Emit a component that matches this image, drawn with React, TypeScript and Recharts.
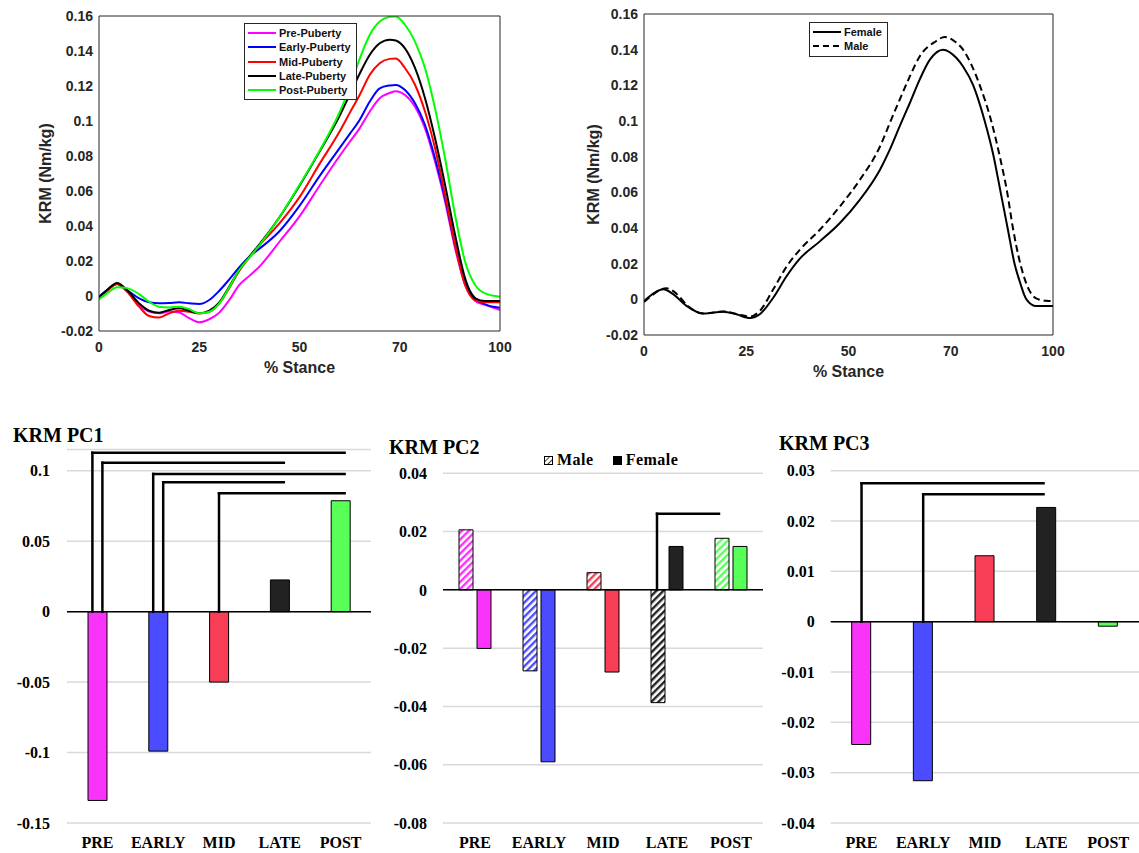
import React from 'react';
import {
  LineChart,
  Line,
  BarChart,
  Bar,
  Cell,
  XAxis,
  YAxis,
  CartesianGrid,
  ReferenceLine,
  Legend,
} from 'recharts';

const SANS = '"Liberation Sans", Arial, Helvetica, sans-serif';
const SERIF = '"Liberation Serif", "Times New Roman", Times, serif';
const AXIS = '#262626';

// ---- top row: knee rotation moment over % stance ----
const stanceX = [0, 2, 4.5, 7, 10, 12.5, 15, 17.5, 20, 22.5, 25, 27.5, 30, 32.5, 35, 37.5, 40, 45, 50, 55, 60, 62.5, 65, 67.5, 70, 72.5, 74, 76.3, 78.8, 81.3, 83.8, 86.3, 88.8, 91.3, 93.8, 96.3, 100];
const prePuberty = [-0.0008, 0.003, 0.0069, 0.0025, -0.0051, -0.0089, -0.0099, -0.0089, -0.0094, -0.0127, -0.015, -0.0133, -0.0095, -0.0023, 0.0063, 0.0115, 0.0168, 0.031, 0.0455, 0.063, 0.08, 0.088, 0.0958, 0.1053, 0.113, 0.116, 0.117, 0.1149, 0.1082, 0.0958, 0.0768, 0.0539, 0.0273, 0.0063, -0.0028, -0.0051, -0.008];
const earlyPuberty = [-0.0004, 0.0034, 0.0069, 0.0034, -0.0013, -0.0036, -0.0042, -0.004, -0.0036, -0.0042, -0.0046, -0.0023, 0.003, 0.0095, 0.0165, 0.0225, 0.027, 0.037, 0.0515, 0.0685, 0.0845, 0.0925, 0.1006, 0.111, 0.1187, 0.1203, 0.1206, 0.1177, 0.1101, 0.0977, 0.0787, 0.0558, 0.0292, 0.0082, -0.0013, -0.0048, -0.0067];
const midPuberty = [-0.0008, 0.003, 0.0069, 0.0025, -0.0061, -0.0114, -0.0123, -0.0099, -0.0084, -0.009, -0.0099, -0.009, -0.0042, 0.0046, 0.0145, 0.022, 0.029, 0.0415, 0.0565, 0.0755, 0.094, 0.1045, 0.1149, 0.1263, 0.133, 0.1355, 0.1357, 0.1303, 0.1207, 0.1054, 0.0844, 0.0578, 0.0292, 0.0063, -0.0023, -0.0036, -0.0036];
const latePuberty = [-0.0008, 0.0034, 0.0075, 0.0034, -0.0042, -0.0084, -0.0095, -0.008, -0.007, -0.0084, -0.0099, -0.0084, -0.0036, 0.0054, 0.015, 0.0225, 0.0295, 0.045, 0.063, 0.0825, 0.103, 0.115, 0.127, 0.1377, 0.1444, 0.1465, 0.146, 0.1415, 0.1303, 0.113, 0.0901, 0.0635, 0.0349, 0.0101, -0.0013, -0.0028, -0.0028];
const postPuberty = [-0.0019, 0.0015, 0.005, 0.0045, 0.0011, -0.0033, -0.0061, -0.0065, -0.0061, -0.0075, -0.0099, -0.009, -0.0042, 0.005, 0.015, 0.022, 0.029, 0.045, 0.0635, 0.083, 0.105, 0.119, 0.1355, 0.1491, 0.1568, 0.1595, 0.1597, 0.155, 0.1454, 0.1303, 0.1072, 0.0787, 0.0463, 0.0196, 0.0063, 0.0015, -0.0004];

const stageNames = ['Pre-Puberty', 'Early-Puberty', 'Mid-Puberty', 'Late-Puberty', 'Post-Puberty'];
const stageKeys = ['pre', 'early', 'mid', 'late', 'post'];
const stageLineColors = ['#ff00ff', '#0000ff', '#ff0000', '#000000', '#00ff00'];

const femaleX = [0, 1, 4.7, 7.2, 10.4, 14.5, 19.4, 22.6, 25.9, 28.3, 31.6, 34.9, 38.1, 43, 47.9, 52.8, 57.7, 60.1, 62.5, 65, 67.4, 69.9, 73.1, 76.4, 78, 80.5, 83.3, 85.5, 87.2, 88.9, 90.6, 92, 93.5, 95.9, 100];
const femaleKrm = [-0.001, 0.001, 0.0056, 0.0028, -0.0037, -0.008, -0.0069, -0.0084, -0.0105, -0.0084, 0.0009, 0.0131, 0.0228, 0.0325, 0.0428, 0.0559, 0.0727, 0.0839, 0.097, 0.1101, 0.1232, 0.1344, 0.14, 0.1353, 0.1306, 0.12, 0.1, 0.08, 0.06, 0.04, 0.02, 0.009, 0, -0.0038, -0.0038];
const maleX = [0, 1, 5.5, 8, 10.4, 14.5, 19.4, 22.6, 25.9, 28.3, 31.6, 34.9, 38.1, 43, 47.9, 52.8, 57.7, 60.1, 62.5, 65, 67.4, 71.3, 73.5, 76, 78, 82.1, 84.9, 87, 88.8, 90.2, 92, 94, 95.9, 98.3, 100];
const maleKrm = [-0.0015, 0.0005, 0.0062, 0.003, -0.003, -0.008, -0.0068, -0.0082, -0.0097, -0.0065, 0.0056, 0.0185, 0.0278, 0.039, 0.0521, 0.0671, 0.0857, 0.0989, 0.1119, 0.125, 0.1362, 0.1446, 0.1471, 0.1446, 0.14, 0.12, 0.1, 0.08, 0.06, 0.04, 0.02, 0.006, 0.0005, -0.0008, -0.001];

const stanceTicks = [0, 25, 50, 75, 100];
const stanceTickLabels = ['0', '25', '50', '70', '100'];
const krmTicks = [-0.02, 0, 0.02, 0.04, 0.06, 0.08, 0.1, 0.12, 0.14, 0.16];

// ---- bottom row: PC scores by pubertal stage ----
const groups = ['PRE', 'EARLY', 'MID', 'LATE', 'POST'];
const groupColors = ['#f933f9', '#4b4bff', '#f73e56', '#222222', '#58ff58'];

const pc1Scores = [-0.134, -0.099, -0.05, 0.0225, 0.0787];
const pc1Ticks = [-0.15, -0.1, -0.05, 0, 0.05, 0.1];
// [from group, to group, bracket height]
const pc1Sig: [number, number, number][] = [[0, 4, 0.1128], [0, 3, 0.1057], [1, 4, 0.0977], [1, 3, 0.0918], [2, 4, 0.084]];

const pc2Male = [0.0206, -0.0278, 0.0059, -0.0387, 0.0177];
const pc2Female = [-0.0201, -0.059, -0.0282, 0.0149, 0.0149];
const pc2Ticks = [-0.08, -0.06, -0.04, -0.02, 0, 0.02, 0.04];
const pc2Sig: [number, number, number][] = [[3, 4, 0.0261]];

const pc3Scores = [-0.0244, -0.0316, 0.0131, 0.0227, -0.0009];
const pc3Ticks = [-0.04, -0.03, -0.02, -0.01, 0, 0.01, 0.02, 0.03];
const pc3Sig: [number, number, number][] = [[0, 3, 0.0275], [1, 3, 0.0253]];

const fmtNum = (v: number) => String(Number(v.toFixed(3)));
const stanceLabel = (v: number) => {
  const i = stanceTicks.indexOf(v);
  return i >= 0 ? stanceTickLabels[i] : String(v);
};

const stageRows = stanceX.map((x, i) => ({
  x,
  pre: prePuberty[i],
  early: earlyPuberty[i],
  mid: midPuberty[i],
  late: latePuberty[i],
  post: postPuberty[i],
}));

function XTitle({ px, py, text }: any) {
  return (
    <text x={px} y={py} textAnchor="middle" fill={AXIS} fontFamily={SANS} fontWeight={700} fontSize={16}>
      {text}
    </text>
  );
}

function YTitle({ px, py, text }: any) {
  return (
    <text x={px} y={py} transform={`rotate(-90, ${px}, ${py})`} textAnchor="middle" fill={AXIS} fontFamily={SANS} fontWeight={700} fontSize={16}>
      {text}
    </text>
  );
}

function LineKey({ items }: { items: { name: string; color: string; dash?: string }[] }) {
  return (
    <div style={{ border: `1px solid ${AXIS}`, background: '#fff', padding: '2px 5px 2px 3px', fontFamily: SANS, fontWeight: 700, fontSize: 11, color: '#111' }}>
      {items.map((it) => (
        <div key={it.name} style={{ display: 'flex', alignItems: 'center', height: 14.3 }}>
          <svg width={28} height={4} style={{ marginRight: 3 }}>
            <line x1={0} y1={2} x2={28} y2={2} stroke={it.color} strokeWidth={2} strokeDasharray={it.dash} />
          </svg>
          <span style={{ lineHeight: '14px', whiteSpace: 'nowrap' }}>{it.name}</span>
        </div>
      ))}
    </div>
  );
}

// MATLAB style box: labelled left/bottom axes plus inward ticks on all four sides
function frameAxes(xTitle: React.ReactElement, yTitle: React.ReactElement) {
  const tickFont = { fill: AXIS, fontSize: 14, fontWeight: 700, fontFamily: SANS, style: { fontWeight: 700 } };
  const yDomain: [number, number] = [-0.02, 0.16];
  return [
    <XAxis key="b" xAxisId="b" type="number" dataKey="x" domain={[0, 100]} ticks={stanceTicks} interval={0}
      tickFormatter={stanceLabel} stroke={AXIS} tickLine={false} tickSize={6} tickMargin={5} height={30}
      tick={tickFont} allowDataOverflow label={xTitle} />,
    <XAxis key="bm" xAxisId="bm" type="number" dataKey="x" domain={[0, 100]} ticks={stanceTicks} interval={0}
      mirror tick={false} axisLine={false} stroke={AXIS} tickSize={5} allowDataOverflow />,
    <XAxis key="t" xAxisId="t" orientation="top" type="number" dataKey="x" domain={[0, 100]} ticks={stanceTicks}
      interval={0} mirror tick={false} stroke={AXIS} tickSize={5} allowDataOverflow />,
    <YAxis key="l" yAxisId="l" type="number" domain={yDomain} ticks={krmTicks} interval={0} tickFormatter={fmtNum}
      stroke={AXIS} tickLine={false} tickSize={4} tickMargin={2} width={60} tick={tickFont} allowDataOverflow
      label={yTitle} />,
    <YAxis key="lm" yAxisId="lm" type="number" domain={yDomain} ticks={krmTicks} interval={0} mirror tick={false}
      axisLine={false} stroke={AXIS} tickSize={5} allowDataOverflow />,
    <YAxis key="r" yAxisId="r" orientation="right" type="number" domain={yDomain} ticks={krmTicks} interval={0}
      mirror tick={false} stroke={AXIS} tickSize={5} allowDataOverflow />,
  ];
}

function StagesChart() {
  const items = stageNames.map((name, i) => ({ name, color: stageLineColors[i] }));
  return (
    <LineChart width={520} height={390} data={stageRows} margin={{ top: 16, right: 20, bottom: 29, left: 39 }}>
      {frameAxes(<XTitle px={299.5} py={372.7} text="% Stance" />, <YTitle px={50.7} py={173.5} text="KRM (Nm/kg)" />)}
      {stageKeys.map((k, i) => (
        <Line key={k} xAxisId="b" yAxisId="l" type="monotone" dataKey={k} name={stageNames[i]}
          stroke={stageLineColors[i]} strokeWidth={2} dot={false} activeDot={false} isAnimationActive={false} />
      ))}
      <Legend layout="vertical" align="center" verticalAlign="middle"
        wrapperStyle={{ left: 244, top: 23, width: 'auto' }} content={() => <LineKey items={items} />} />
    </LineChart>
  );
}

function SexChart() {
  const female = femaleX.map((x, i) => ({ x, krm: femaleKrm[i] }));
  const male = maleX.map((x, i) => ({ x, krm: maleKrm[i] }));
  const items = [
    { name: 'Female', color: '#000' },
    { name: 'Male', color: '#000', dash: '6 4' },
  ];
  return (
    <LineChart width={520} height={390} margin={{ top: 14, right: 27, bottom: 25, left: 24 }}>
      {frameAxes(<XTitle px={288.5} py={376.7} text="% Stance" />, <YTitle px={38.7} py={174.5} text="KRM (Nm/kg)" />)}
      <Line xAxisId="b" yAxisId="l" data={female} type="monotone" dataKey="krm" name="Female" stroke="#000"
        strokeWidth={2} dot={false} activeDot={false} isAnimationActive={false} />
      <Line xAxisId="b" yAxisId="l" data={male} type="monotone" dataKey="krm" name="Male" stroke="#000"
        strokeWidth={2} strokeDasharray="7 4" dot={false} activeDot={false} isAnimationActive={false} />
      <Legend layout="vertical" align="center" verticalAlign="middle"
        wrapperStyle={{ left: 249, top: 22, width: 'auto' }} content={() => <LineKey items={items} />} />
    </LineChart>
  );
}

// significance brackets: segments placed on group centres, nudged sideways in pixels
function brackets(sig: [number, number, number][], spread: number, startPx: number, endPx: number) {
  const out: React.ReactElement[] = [];
  sig.forEach(([from, to, h], k) => {
    const same = sig.filter((s) => s[0] === from);
    const order = same.indexOf(sig[k]);
    const dx0 = startPx + (order - (same.length - 1) / 2) * spread;
    const draw = (d1: number) => (p: any) => (
      <line x1={p.x1 + dx0} y1={p.y1} x2={p.x2 + d1} y2={p.y2} stroke="#000" strokeWidth={2.5} strokeLinecap="square" />
    );
    out.push(
      <ReferenceLine key={`v${k}`} xAxisId="cat" ifOverflow="visible" shape={draw(dx0)}
        segment={[{ x: groups[from], y: 0 }, { x: groups[from], y: h }]} />,
    );
    out.push(
      <ReferenceLine key={`h${k}`} xAxisId="cat" ifOverflow="visible" shape={draw(endPx)}
        segment={[{ x: groups[from], y: h }, { x: groups[to], y: h }]} />,
    );
  });
  return out;
}

function barFrame(ticks: number[], domain: [number, number], labelGap: number) {
  const font = { fill: '#000', fontSize: 16, fontWeight: 700, fontFamily: SERIF };
  return [
    <CartesianGrid key="g" xAxisId="cat" vertical={false} stroke="#d9d9d9" strokeWidth={1.5} />,
    <XAxis key="x" xAxisId="cat" dataKey="group" axisLine={false} tickLine={false} tickSize={6} tickMargin={8}
      height={30} interval={0} tick={font} />,
    <YAxis key="y" type="number" domain={domain} ticks={ticks} interval={0} tickFormatter={fmtNum} axisLine={false}
      tickLine={false} tickSize={6} tickMargin={labelGap} width={60} tick={font} allowDataOverflow />,
    <ReferenceLine key="z" xAxisId="cat" y={0} stroke="#000" strokeWidth={1.5} />,
  ];
}

function PC1Chart() {
  const rows = groups.map((group, i) => ({ group, v: pc1Scores[i] }));
  return (
    <BarChart width={380} height={443} data={rows} margin={{ top: 39.6, right: 9, bottom: 0, left: 7 }}>
      {barFrame(pc1Ticks, [-0.15, 0.115], 11)}
      <Bar xAxisId="cat" dataKey="v" barSize={19} stroke="#000" strokeWidth={1} isAnimationActive={false}>
        {groups.map((g, i) => <Cell key={g} fill={groupColors[i]} />)}
      </Bar>
      {brackets(pc1Sig, 10, 0, 4)}
    </BarChart>
  );
}

function SexKey() {
  return (
    <div style={{ display: 'flex', alignItems: 'center', height: 18, fontFamily: SERIF, fontWeight: 700, fontSize: 16, color: '#000', whiteSpace: 'nowrap' }}>
      <svg width={9} height={9} style={{ marginRight: 4 }}>
        <rect x={0.5} y={0.5} width={8} height={8} fill="url(#hatch-key)" stroke="#000" strokeWidth={1} />
      </svg>
      <span style={{ marginRight: 19, letterSpacing: 0.5 }}>Male</span>
      <svg width={9} height={9} style={{ marginRight: 4 }}>
        <rect x={0} y={0} width={9} height={9} fill="#000" />
      </svg>
      <span style={{ letterSpacing: 0.5 }}>Female</span>
    </div>
  );
}

function PC2Chart() {
  const rows = groups.map((group, i) => ({ group, male: pc2Male[i], female: pc2Female[i] }));
  return (
    <BarChart width={390} height={433} data={rows} barGap={4} margin={{ top: 53.3, right: 7, bottom: 0, left: 3 }}>
      {barFrame(pc2Ticks, [-0.08, 0.04], 10)}
      <Bar xAxisId="cat" dataKey="male" name="Male" barSize={14} stroke="#000" strokeWidth={1} isAnimationActive={false}>
        {groups.map((g, i) => <Cell key={g} fill={`url(#hatch-${i})`} />)}
      </Bar>
      <Bar xAxisId="cat" dataKey="female" name="Female" barSize={14} stroke="#000" strokeWidth={1} isAnimationActive={false}>
        {groups.map((g, i) => <Cell key={g} fill={groupColors[i]} />)}
      </Bar>
      {brackets(pc2Sig, 0, -10, -12)}
      <Legend layout="vertical" align="center" verticalAlign="middle"
        wrapperStyle={{ left: 164, top: 31, width: 'auto' }} content={() => <SexKey />} />
    </BarChart>
  );
}

function PC3Chart() {
  const rows = groups.map((group, i) => ({ group, v: pc3Scores[i] }));
  return (
    <BarChart width={379} height={433} data={rows} margin={{ top: 50.7, right: 0, bottom: 0, left: 10.7 }}>
      {barFrame(pc3Ticks, [-0.04, 0.03], 10)}
      <Bar xAxisId="cat" dataKey="v" barSize={19} stroke="#000" strokeWidth={1} isAnimationActive={false}>
        {groups.map((g, i) => <Cell key={g} fill={groupColors[i]} />)}
      </Bar>
      {brackets(pc3Sig, 0, 0, -3)}
    </BarChart>
  );
}

function HatchDefs() {
  return (
    <svg width={0} height={0} style={{ position: 'absolute' }}>
      <defs>
        {groupColors.map((c, i) => (
          <pattern key={i} id={`hatch-${i}`} patternUnits="userSpaceOnUse" width={5} height={5} patternTransform="rotate(45)">
            <rect width={5} height={5} fill="#fff" />
            <rect width={2.4} height={5} fill={c} />
          </pattern>
        ))}
        <pattern id="hatch-key" patternUnits="userSpaceOnUse" width={4} height={4} patternTransform="rotate(45)">
          <rect width={4} height={4} fill="#fff" />
          <rect width={1} height={4} fill="#444" />
        </pattern>
      </defs>
    </svg>
  );
}

const titleStyle: React.CSSProperties = {
  position: 'absolute',
  fontFamily: SERIF,
  fontWeight: 700,
  fontSize: 20,
  lineHeight: '20px',
  color: '#000',
  whiteSpace: 'nowrap',
};

export default function App() {
  return (
    <div style={{ position: 'absolute', left: 0, top: 0, width: 1139, height: 853, background: '#fff', overflow: 'hidden' }}>
      <HatchDefs />
      <div style={{ position: 'absolute', left: 0, top: 0 }}>
        <StagesChart />
      </div>
      <div style={{ position: 'absolute', left: 560, top: 0 }}>
        <SexChart />
      </div>
      <div style={{ position: 'absolute', left: 0, top: 410 }}>
        <PC1Chart />
      </div>
      <div style={{ position: 'absolute', left: 380, top: 420 }}>
        <PC2Chart />
      </div>
      <div style={{ position: 'absolute', left: 760, top: 420 }}>
        <PC3Chart />
      </div>
      <div style={{ ...titleStyle, left: 13, top: 425 }}>KRM PC1</div>
      <div style={{ ...titleStyle, left: 389, top: 437 }}>KRM PC2</div>
      <div style={{ ...titleStyle, left: 779, top: 433 }}>KRM PC3</div>
    </div>
  );
}
